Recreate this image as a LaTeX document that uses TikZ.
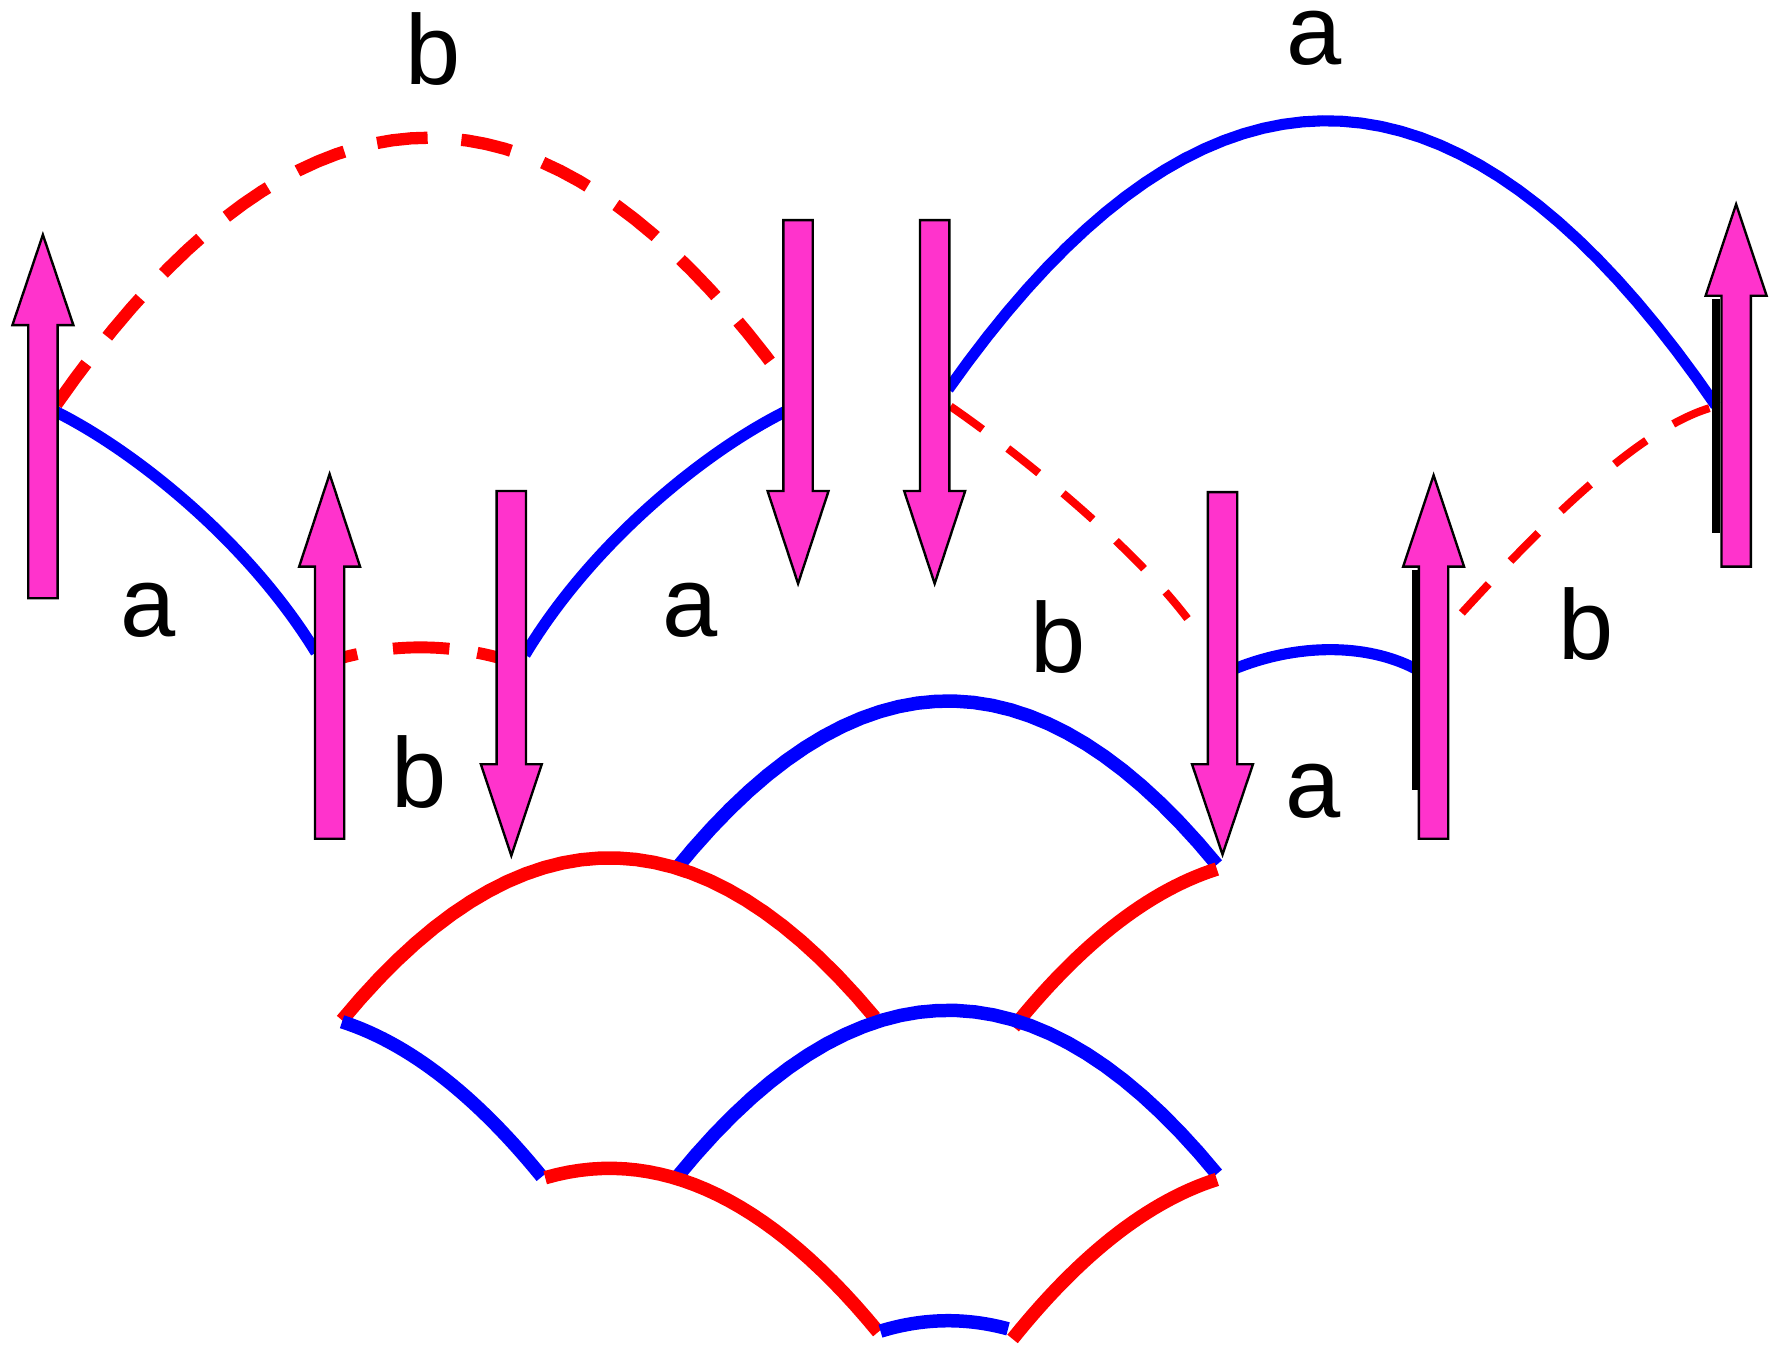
\documentclass[tikz,border=0pt]{standalone}
\usepackage{fontspec}
\setmainfont{Liberation Sans}
\definecolor{spinpink}{RGB}{255,51,204}
\begin{document}
\begin{tikzpicture}[x=0.01cm,y=-0.01cm]
		\tikzset{spin/.style={fill=spinpink,draw=black,line width=0.6pt}};
		\tikzset{letter/.style={inner sep=0pt,font=\fontsize{25}{30}\selectfont}};
		\tikzset{scaleline/.style={#1,line width=3.4pt}};
		\useasboundingbox (0,0) rectangle (1568,1194);
		% upper left chain
		\draw[red,line width=3.1pt,dash pattern=on 0.45cm off 0.3cm] plot[domain=50:695,samples=40] (\x,{122+225*((\x-380)/322)^2});
		\draw[blue,line width=2.9pt] (50,365) .. controls (120,400) and (220,480) .. (280,578);
		\draw[blue,line width=2.9pt] (465,580) .. controls (525,480) and (625,400) .. (695,365);
		\draw[red,line width=3pt,dash pattern=on 0.38cm off 0.32cm on 0.5cm off 0.25cm on 0.6cm off 0.1cm] (280,590) .. controls (340,568) and (405,568) .. (465,590);
		% upper right chain
		\draw[blue,line width=2.8pt] plot[domain=840:1520,samples=40] (\x,{107+245*((\x-1175)/340)^2});
		\draw[red,line width=2pt,dash pattern=on 0.35cm off 0.28cm] (842,360) .. controls (900,400) and (1000,480) .. (1052,548);
		\draw[red,line width=2pt,dash pattern=on 0.35cm off 0.28cm] (1295,543) .. controls (1380,450) and (1460,375) .. (1520,360);
		\draw[blue,line width=2.8pt] (1095,592) .. controls (1150,570) and (1210,570) .. (1253,592);
		% scale lattice
		\foreach \col/\px/\py/\xa/\xb in {blue/840/621/597/1078, red/540/760/303/775, red/1140/760/898/1078, blue/840/895/600/1078, blue/240/895/303/480, red/540/1035/483/778, blue/840/1170/780/893, red/1140/1035/897/1078}
			\draw[scaleline=\col] plot[domain=\xa:\xb,samples=30] (\x,{\py+145*((\x-\px)/238)^2});
		% shadows and spins
		\fill[black] (1251,505) rectangle (1258,700);
		\fill[black] (1517,265) rectangle (1524,472);
		\foreach \ax/\at/\ab/\ap in {38/530/288/208, 292/743/502/420, 453/435/677/758, 707/195/435/517, 828/195/435/517, 1083/436/677/757, 1270/743/502/421, 1538/502/262/181}
			\draw[spin] (\ax-13,\at) -- (\ax-13,\ab) -- (\ax-27,\ab) -- (\ax,\ap) -- (\ax+27,\ab) -- (\ax+13,\ab) -- (\ax+13,\at) -- cycle;
		% bond labels
		\node[letter] (btop) at (384,43) {b};
		\node[letter] (atop) at (1164,34) {a};
		\node[letter] (aleft) at (131,541) {a};
		\node[letter] (amid) at (611,541) {a};
		\node[letter] (blow) at (371,684) {b};
		\node[letter] (bmid) at (937,564) {b};
		\node[letter] (bright) at (1405,553) {b};
		\node[letter] (alow) at (1163,701) {a};
\end{tikzpicture}
\end{document}
